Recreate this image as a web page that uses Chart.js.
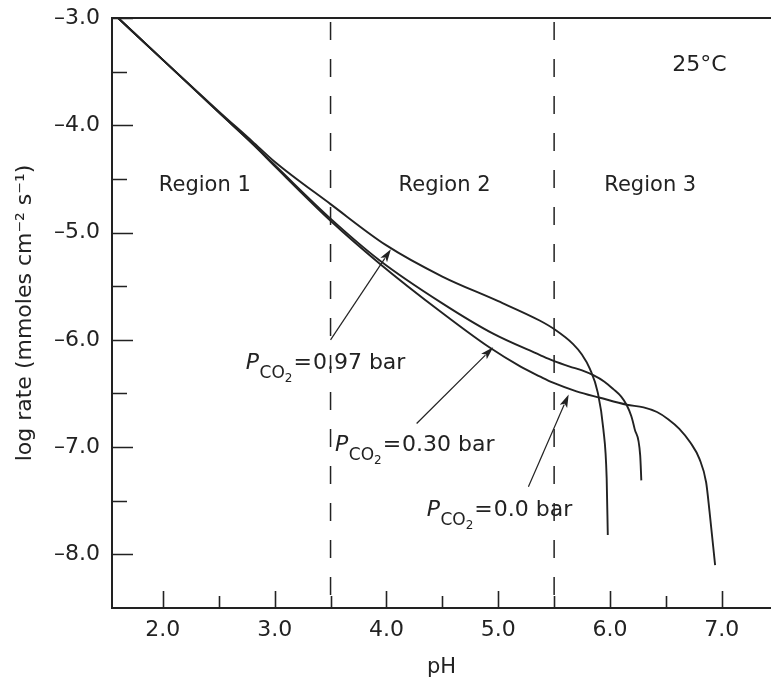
<!DOCTYPE html>
<html><head><meta charset="utf-8">
<script src="https://cdn.jsdelivr.net/npm/chart.js@4/dist/chart.umd.min.js"></script>
<style>html,body{margin:0;padding:0;background:#fff;}#wrap{width:771px;height:680px;}</style>
</head><body><div id="wrap"><canvas id="c" width="771" height="680"></canvas></div>
<script>
// ---- data ----
const pH_097 = [1.6, 2.0, 2.5, 2.8, 3.0, 3.5, 4.0, 4.5, 5.0, 5.37, 5.5, 5.67, 5.75, 5.82, 5.89, 5.94, 5.97, 5.98];
const logRate_097 = [-3.00, -3.39, -3.87, -4.15, -4.34, -4.735, -5.12, -5.41, -5.64, -5.82, -5.90, -6.04, -6.14, -6.27, -6.49, -6.83, -7.29, -7.82];
const pH_030 = [1.6, 2.0, 2.5, 2.8, 3.0, 3.5, 3.94, 4.5, 4.95, 5.37, 5.49, 5.64, 5.75, 5.85, 5.95, 6.03, 6.10, 6.15, 6.19, 6.22, 6.27, 6.28];
const logRate_030 = [-3.00, -3.39, -3.88, -4.17, -4.37, -4.87, -5.26, -5.66, -5.94, -6.14, -6.195, -6.25, -6.285, -6.33, -6.39, -6.46, -6.53, -6.61, -6.71, -6.83, -7.08, -7.31];
const pH_000 = [1.6, 2.0, 2.5, 2.8, 3.0, 3.5, 3.94, 4.5, 4.92, 5.2, 5.37, 5.49, 5.7, 5.91, 6.15, 6.30, 6.42, 6.52, 6.62, 6.72, 6.80, 6.86, 6.89, 6.94];
const logRate_000 = [-3.00, -3.39, -3.88, -4.17, -4.38, -4.89, -5.29, -5.75, -6.07, -6.25, -6.34, -6.40, -6.48, -6.54, -6.605, -6.63, -6.673, -6.74, -6.83, -6.96, -7.11, -7.33, -7.60, -8.10];
const seriesPCO2 = ['0.97', '0.30', '0.0'];
const regionBounds = [3.5, 5.5];
const regionLabels = ['Region 1', 'Region 2', 'Region 3'];
const temperatureLabel = '25°C';
const xTickValues = [2, 3, 4, 5, 6, 7];
const xMinorTickValues = [2.5, 3.5, 4.5, 5.5, 6.5];
const yTickValues = [-3, -4, -5, -6, -7, -8];
const yMinorTickValues = [-3.5, -4.5, -5.5, -6.5, -7.5];
const xTitle = 'pH';
const yTitle = 'log rate (mmoles cm\u207B\u00B2 s\u207B\u00B9)';

// ---- styling / placement ----
const INK = '#222';
const FONT = '"DejaVu Sans", "Liberation Sans", sans-serif';
const regionTextPos = [{x: 2.375, y: -4.614}, {x: 4.52, y: -4.614}, {x: 6.36, y: -4.614}];
const tempPos = {x: 6.80, y: -3.49};
const pLabelPos = [{x: 2.742, y: -6.27}, {x: 3.54, y: -7.04}, {x: 4.36, y: -7.64}];
const arrows = [
  {from: {x: 3.50, y: -6.00}, to: {x: 4.04, y: -5.155}},
  {from: {x: 4.27, y: -6.78}, to: {x: 4.955, y: -6.07}},
  {from: {x: 5.27, y: -7.37}, to: {x: 5.63, y: -6.51}}
];

const toPts = (xs, ys) => xs.map((v, i) => ({x: v, y: ys[i]}));
const curveStyle = {borderColor: INK, borderWidth: 1.9, pointRadius: 0, showLine: true, fill: false, cubicInterpolationMode: 'monotone'};
const dashStyle = {borderColor: INK, borderWidth: 1.5, pointRadius: 0, showLine: true, fill: false, borderDash: [18, 19], borderDashOffset: 33};

const datasets = [
  Object.assign({label: 'PCO2=' + seriesPCO2[0] + ' bar', data: toPts(pH_097, logRate_097)}, curveStyle),
  Object.assign({label: 'PCO2=' + seriesPCO2[1] + ' bar', data: toPts(pH_030, logRate_030)}, curveStyle),
  Object.assign({label: 'PCO2=' + seriesPCO2[2] + ' bar', data: toPts(pH_000, logRate_000)}, curveStyle),
  ...regionBounds.map(b => Object.assign({label: 'bound ' + b, data: [{x: b, y: -3.0}, {x: b, y: -8.5}]}, dashStyle))
];

function fmt(v) { return (v < 0 ? '\u2013' : '') + Math.abs(v).toFixed(1); }

function drawArrow(ctx, x1, y1, x2, y2) {
  const ang = Math.atan2(y2 - y1, x2 - x1);
  const L = 13, W = 4;
  ctx.beginPath();
  ctx.moveTo(x1, y1);
  ctx.lineTo(x2 - Math.cos(ang) * (L - 2), y2 - Math.sin(ang) * (L - 2));
  ctx.lineWidth = 1.2; ctx.strokeStyle = INK; ctx.stroke();
  ctx.beginPath();
  ctx.moveTo(x2, y2);
  ctx.lineTo(x2 - Math.cos(ang) * L - Math.sin(ang) * W, y2 - Math.sin(ang) * L + Math.cos(ang) * W);
  ctx.lineTo(x2 - Math.cos(ang) * (L - 3), y2 - Math.sin(ang) * (L - 3));
  ctx.lineTo(x2 - Math.cos(ang) * L + Math.sin(ang) * W, y2 - Math.sin(ang) * L - Math.cos(ang) * W);
  ctx.closePath(); ctx.fillStyle = INK; ctx.fill();
}

function drawPLabel(ctx, x, y, val) {
  ctx.textAlign = 'left'; ctx.textBaseline = 'alphabetic'; ctx.fillStyle = INK;
  let cx = x;
  ctx.font = 'italic 22px ' + FONT; ctx.fillText('P', cx, y); cx += ctx.measureText('P').width + 0.5;
  ctx.font = '17px ' + FONT; ctx.fillText('CO', cx, y + 9); cx += ctx.measureText('CO').width;
  ctx.font = '12px ' + FONT; ctx.fillText('2', cx, y + 13); cx += ctx.measureText('2').width + 1;
  ctx.font = '22px ' + FONT; ctx.fillText('=', cx, y); cx += ctx.measureText('=').width + 1;
  ctx.fillText(val + ' bar', cx, y);
}

const decor = {
  id: 'decor',
  afterDatasetsDraw(chart) {
    const {ctx, chartArea: a, scales: {x, y}} = chart;
    ctx.save();
    ctx.strokeStyle = INK; ctx.lineCap = 'butt';
    // top frame line
    ctx.lineWidth = 2;
    ctx.beginPath(); ctx.moveTo(a.left, a.top); ctx.lineTo(a.right, a.top); ctx.stroke();
    // inward ticks
    ctx.lineWidth = 1.6;
    ctx.beginPath();
    yTickValues.forEach(v => { const py = Math.round(y.getPixelForValue(v)) + 0.5; ctx.moveTo(a.left, py); ctx.lineTo(a.left + 21, py); });
    yMinorTickValues.forEach(v => { const py = Math.round(y.getPixelForValue(v)) + 0.5; ctx.moveTo(a.left, py); ctx.lineTo(a.left + 15, py); });
    xTickValues.forEach(v => { const px = Math.round(x.getPixelForValue(v)) + 0.5; ctx.moveTo(px, a.bottom); ctx.lineTo(px, a.bottom - 17); });
    xMinorTickValues.forEach(v => { const px = Math.round(x.getPixelForValue(v)) + 0.5; ctx.moveTo(px, a.bottom); ctx.lineTo(px, a.bottom - 12); });
    ctx.stroke();
    // region labels
    ctx.fillStyle = INK; ctx.font = '21px ' + FONT; ctx.textAlign = 'center'; ctx.textBaseline = 'alphabetic';
    regionLabels.forEach((t, i) => ctx.fillText(t, x.getPixelForValue(regionTextPos[i].x), y.getPixelForValue(regionTextPos[i].y)));
    ctx.font = '22px ' + FONT;
    ctx.fillText(temperatureLabel, x.getPixelForValue(tempPos.x), y.getPixelForValue(tempPos.y));
    // PCO2 labels and arrows
    seriesPCO2.forEach((val, i) => {
      drawPLabel(ctx, x.getPixelForValue(pLabelPos[i].x), y.getPixelForValue(pLabelPos[i].y), val);
      const ar = arrows[i];
      drawArrow(ctx, x.getPixelForValue(ar.from.x), y.getPixelForValue(ar.from.y), x.getPixelForValue(ar.to.x), y.getPixelForValue(ar.to.y));
    });
    ctx.restore();
  }
};

new Chart(document.getElementById('c'), {
  type: 'scatter',
  data: {datasets},
  plugins: [decor],
  options: {
    responsive: false, animation: false, devicePixelRatio: 1,
    layout: {padding: {top: 18, right: 0, left: 0, bottom: 0}},
    plugins: {legend: {display: false}, tooltip: {enabled: false}},
    scales: {
      x: {
        type: 'linear', position: 'bottom', min: 1.545, max: 7.44,
        afterBuildTicks: s => { s.ticks = xTickValues.map(v => ({value: v})); },
        afterFit: s => { s.height = 72; s.paddingLeft = 0; s.paddingRight = 0; },
        grid: {display: false, drawTicks: false},
        border: {display: true, color: INK, width: 2},
        ticks: {color: INK, font: {family: FONT, size: 22}, padding: 9, maxRotation: 0, callback: v => v.toFixed(1)},
        title: {display: true, text: xTitle, color: INK, font: {family: FONT, size: 21}, padding: {top: 0, bottom: 0}}
      },
      y: {
        type: 'linear', position: 'left', min: -8.5, max: -3.0,
        afterBuildTicks: s => { s.ticks = yTickValues.map(v => ({value: v})); },
        afterFit: s => { s.width = 112; s.paddingTop = 0; s.paddingBottom = 0; },
        grid: {display: false, drawTicks: false},
        border: {display: true, color: INK, width: 2},
        ticks: {color: INK, font: {family: FONT, size: 22}, padding: 12, callback: v => fmt(v)},
        title: {display: true, text: yTitle, color: INK, font: {family: FONT, size: 22}, padding: {top: 12, bottom: 0}}
      }
    }
  }
});
</script></body></html>
